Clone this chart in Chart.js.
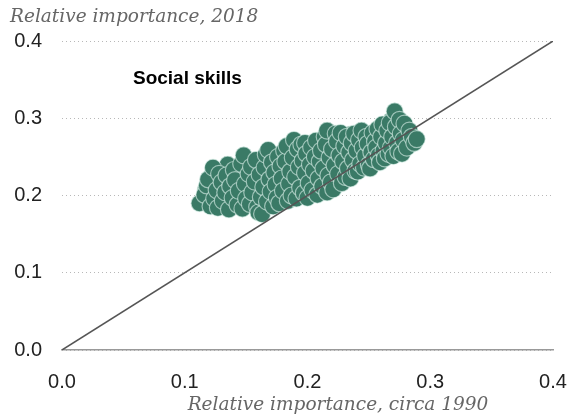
<!DOCTYPE html>
<html>
<head>
<meta charset="utf-8">
<script src="https://cdn.jsdelivr.net/npm/chart.js@4.4.1/dist/chart.umd.min.js"></script>
<style>
  html, body { margin: 0; padding: 0; background: #ffffff; }
  #wrap { width: 571px; height: 416px; position: relative; }
</style>
</head>
<body>
<div id="wrap"><canvas id="c" width="571" height="416"></canvas></div>
<script>
// Relative importance of social skills, circa 1990 (x) vs 2018 (y), one value per occupation
const importance1990 = [
  0.117,0.121,0.129,0.129,0.133,0.136,0.139,0.141,0.144,0.146,
  0.148,0.151,0.152,0.154,0.157,0.159,0.161,0.163,0.164,0.167,
  0.169,0.170,0.172,0.174,0.176,0.177,0.179,0.182,0.184,0.185,
  0.187,0.189,0.191,0.193,0.194,0.196,0.198,0.200,0.202,0.204,
  0.205,0.207,0.209,0.211,0.212,0.214,0.216,0.218,0.220,0.222,
  0.223,0.225,0.227,0.229,0.230,0.232,0.234,0.235,0.237,0.239,
  0.240,0.242,0.243,0.245,0.247,0.248,0.250,0.252,0.253,0.255,
  0.257,0.258,0.260,0.261,0.263,0.264,0.266,0.268,0.269,0.271,
  0.272,0.274,0.276,0.277,0.279,0.280,0.282,0.284,0.142,0.156,
  0.166,0.181,0.197,0.208,0.221,0.233,0.246,0.259,0.127,0.173,
  0.118,0.122,0.128,0.131,0.135,0.138,0.142,0.143,0.147,0.150,
  0.153,0.155,0.158,0.160,0.163,0.166,0.168,0.171,0.173,0.175,
  0.178,0.181,0.183,0.186,0.188,0.190,0.192,0.194,0.197,0.199,
  0.201,0.203,0.205,0.207,0.209,0.211,0.213,0.215,0.217,0.219,
  0.221,0.224,0.226,0.229,0.231,0.234,0.236,0.239,0.241,0.244,
  0.246,0.249,0.251,0.254,0.256,0.259,0.262,0.266,0.270,0.274,
  0.125,0.132,0.138,0.145,0.151,0.156,0.162,0.170,0.176,0.180,
  0.185,0.190,0.195,0.200,0.206,0.210,0.214,0.219,0.223,0.228,
  0.233,0.238,0.243,0.248,0.253,0.258,0.263,0.268,0.273,0.278,
  0.135,
  0.112,0.116,0.118,0.119,0.121,0.123,0.124,0.126,0.127,0.128,
  0.130,0.131,0.133,0.134,0.136,0.137,0.139,0.140,0.141,0.143,
  0.144,0.146,0.147,0.148,0.149,0.150,0.152,0.153,0.154,0.155,
  0.157,0.158,0.159,0.160,0.161,0.162,0.163,0.164,0.165,0.166,
  0.167,0.168,0.169,0.170,0.171,0.172,0.173,0.174,0.175,0.176,
  0.177,0.178,0.179,0.180,0.181,0.182,0.183,0.184,0.185,0.186,
  0.187,0.188,0.189,0.190,0.191,0.192,0.193,0.194,0.195,0.196,
  0.197,0.198,0.198,0.199,0.200,0.201,0.202,0.203,0.204,0.205,
  0.206,0.207,0.208,0.209,0.210,0.211,0.212,0.213,0.214,0.215,
  0.216,0.216,0.217,0.218,0.219,0.220,0.221,0.222,0.223,0.224,
  0.225,0.226,0.227,0.228,0.229,0.230,0.231,0.232,0.233,0.234,
  0.235,0.236,0.237,0.238,0.239,0.240,0.241,0.242,0.243,0.244,
  0.245,0.246,0.247,0.248,0.249,0.250,0.251,0.252,0.253,0.254,
  0.255,0.256,0.257,0.258,0.259,0.260,0.261,0.262,0.263,0.264,
  0.265,0.266,0.267,0.268,0.269,0.270,0.271,0.272,0.273,0.274,
  0.275,0.276,0.277,0.278,0.279,0.281,0.283,0.285,0.287,0.289
];
const importance2018 = [
  0.207,0.224,0.199,0.212,0.187,0.219,0.205,0.229,0.193,0.221,
  0.235,0.189,0.244,0.226,0.199,0.238,0.209,0.247,0.186,0.234,
  0.249,0.196,0.218,0.253,0.229,0.203,0.247,0.226,0.256,0.201,
  0.234,0.219,0.262,0.204,0.243,0.227,0.259,0.211,0.234,0.268,
  0.246,0.209,0.233,0.271,0.251,0.216,0.241,0.263,0.227,0.274,
  0.248,0.219,0.259,0.275,0.239,0.262,0.229,0.279,0.254,0.241,
  0.271,0.251,0.234,0.279,0.243,0.265,0.253,0.274,0.241,0.261,
  0.249,0.283,0.262,0.252,0.288,0.274,0.262,0.297,0.258,0.281,
  0.262,0.275,0.264,0.286,0.260,0.278,0.270,0.266,0.199,0.216,
  0.223,0.238,0.248,0.257,0.264,0.268,0.257,0.277,0.216,0.207,
  0.195,0.209,0.190,0.222,0.198,0.210,0.214,0.225,0.200,0.220,
  0.232,0.212,0.203,0.220,0.230,0.200,0.215,0.225,0.240,0.220,
  0.200,0.215,0.235,0.222,0.208,0.238,0.228,0.252,0.214,0.236,
  0.226,0.252,0.218,0.240,0.262,0.228,0.246,0.220,0.270,0.242,
  0.252,0.232,0.268,0.236,0.258,0.270,0.240,0.250,0.270,0.245,
  0.272,0.254,0.270,0.258,0.276,0.266,0.285,0.274,0.265,0.290,
  0.218,0.201,0.225,0.230,0.208,0.193,0.240,0.232,0.209,0.226,
  0.241,0.212,0.221,0.248,0.228,0.236,0.256,0.233,0.262,0.254,
  0.246,0.264,0.255,0.260,0.266,0.272,0.279,0.285,0.283,0.265,
  0.240,
  0.190,0.201,0.213,0.221,0.186,0.236,0.196,0.207,0.184,0.228,
  0.217,0.193,0.204,0.226,0.182,0.212,0.197,0.233,0.220,0.188,
  0.206,0.241,0.183,0.252,0.215,0.196,0.228,0.189,0.237,0.204,
  0.218,0.246,0.185,0.178,0.227,0.198,0.176,0.211,0.236,0.253,
  0.192,0.259,0.221,0.205,0.243,0.186,0.230,0.214,0.197,0.250,
  0.190,0.238,0.222,0.206,0.258,0.244,0.264,0.193,0.215,0.231,
  0.200,0.249,0.272,0.224,0.196,0.260,0.237,0.210,0.266,0.245,
  0.203,0.229,0.268,0.254,0.197,0.216,0.240,0.262,0.207,0.232,
  0.250,0.271,0.201,0.222,0.244,0.258,0.212,0.235,0.276,0.266,
  0.204,0.284,0.226,0.249,0.217,0.260,0.208,0.239,0.280,0.270,
  0.228,0.252,0.281,0.216,0.244,0.264,0.224,0.276,0.235,0.256,
  0.222,0.268,0.246,0.280,0.232,0.258,0.231,0.272,0.241,0.284,
  0.262,0.236,0.251,0.276,0.267,0.240,0.235,0.256,0.281,0.247,
  0.270,0.262,0.286,0.252,0.243,0.276,0.292,0.258,0.248,0.268,
  0.284,0.254,0.294,0.262,0.276,0.251,0.309,0.289,0.268,0.257,
  0.298,0.280,0.254,0.272,0.293,0.262,0.284,0.276,0.268,0.273
];
// Reference line where 2018 equals circa 1990
const equalityLineX = [0, 0.4];
const equalityLineY = [0, 0.4];
const axisTicks = [0, 0.1, 0.2, 0.3, 0.4];

const yAxisTitle = 'Relative importance, 2018';
const xAxisTitle = 'Relative importance, circa 1990';
const panelLabel = 'Social skills';

const scatterPoints = importance1990.map((x, i) => ({ x: x, y: importance2018[i] }));
const linePoints = equalityLineX.map((x, i) => ({ x: x, y: equalityLineY[i] }));

const textPlugin = {
  id: 'texts',
  afterDraw(chart) {
    const ctx = chart.ctx;
    ctx.save();
    ctx.fillStyle = '#666666';
    ctx.font = 'italic 18.5px "DejaVu Serif"';
    ctx.textBaseline = 'middle';
    ctx.textAlign = 'left';
    ctx.fillText(yAxisTitle, 10, 17);
    ctx.textAlign = 'center';
    ctx.fillText(xAxisTitle, 338, 405);
    ctx.fillStyle = '#000000';
    ctx.font = 'bold 19px "Liberation Sans"';
    ctx.textAlign = 'left';
    ctx.fillText(panelLabel, 133, 79);
    ctx.restore();
  }
};

const tickFont = { family: '"Liberation Sans", Arial, sans-serif', size: 20 };

new Chart(document.getElementById('c'), {
  type: 'scatter',
  data: {
    datasets: [
      {
        type: 'line',
        data: linePoints,
        borderColor: '#555555',
        borderWidth: 1.5,
        pointRadius: 0,
        fill: false,
        order: 0
      },
      {
        type: 'scatter',
        data: scatterPoints,
        backgroundColor: '#3a7a66',
        borderColor: 'rgba(225,245,238,0.6)',
        borderWidth: 1.2,
        pointRadius: 8.5,
        order: 1
      }
    ]
  },
  options: {
    responsive: false,
    animation: false,
    devicePixelRatio: 1,
    layout: { padding: { left: 0, right: 18, top: 41, bottom: 0 } },
    plugins: { legend: { display: false }, tooltip: { enabled: false } },
    scales: {
      x: {
        type: 'linear',
        min: 0, max: 0.4,
        afterBuildTicks(scale) { scale.ticks = axisTicks.map(v => ({ value: v })); },
        afterFit(scale) { scale.height = 66; scale.paddingLeft = 0; scale.paddingRight = 0; },
        grid: { display: false, drawTicks: false },
        border: { display: true, color: '#999999', width: 1.5 },
        ticks: {
          padding: 20,
          color: '#222222',
          font: tickFont,
          maxRotation: 0,
          callback: v => Number(v).toFixed(1)
        }
      },
      y: {
        type: 'linear',
        min: 0, max: 0.4,
        afterBuildTicks(scale) { scale.ticks = axisTicks.map(v => ({ value: v })); },
        afterFit(scale) { scale.width = 62; scale.paddingTop = 0; scale.paddingBottom = 0; },
        grid: {
          color: '#b8b8b8',
          lineWidth: 1,
          drawTicks: false
        },
        border: { display: false, dash: [1, 3] },
        ticks: {
          padding: 20,
          color: '#222222',
          font: tickFont,
          callback: v => Number(v).toFixed(1)
        }
      }
    }
  },
  plugins: [textPlugin]
});
</script>
</body>
</html>
